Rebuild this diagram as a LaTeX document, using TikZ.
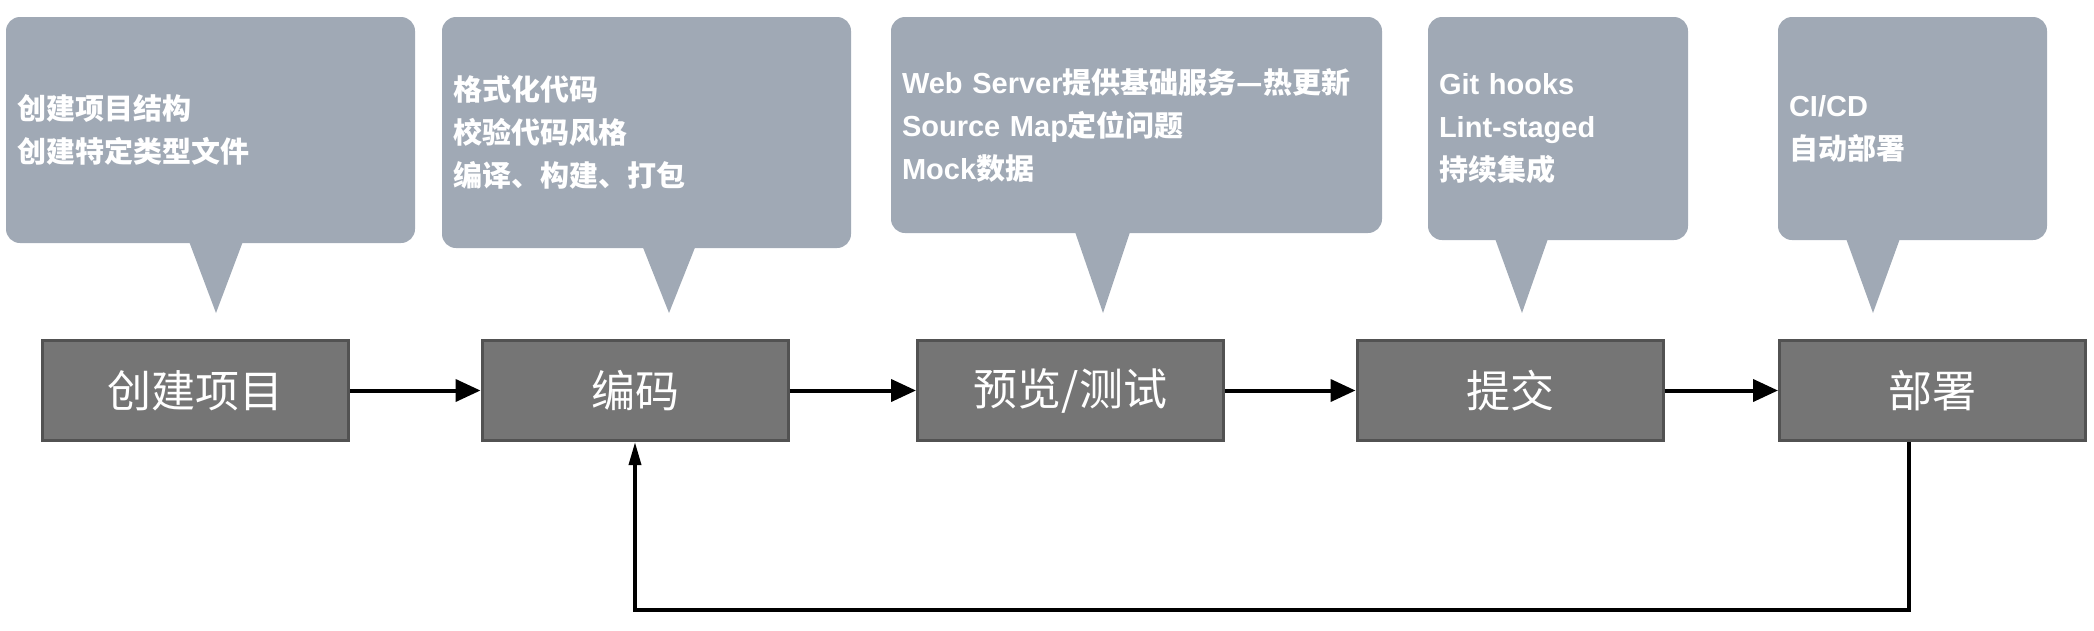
\documentclass[tikz,border=0pt]{standalone}
\usepackage{fontspec}
\setmainfont{Noto Sans CJK SC}
\newfontfamily\lat{Liberation Sans}
\usetikzlibrary{arrows.meta,calc}
\definecolor{cfill}{HTML}{A0A9B5}
\definecolor{bfill}{HTML}{757575}
\definecolor{bedge}{HTML}{525252}
\begin{document}
\begin{tikzpicture}[x=1pt,y=-1pt,
  callout/.style={rectangle, rounded corners=14pt, fill=cfill, inner sep=11pt,
    align=left, text=white, font=\fontsize{29}{43}\selectfont\bfseries},
  stepbox/.style={rectangle, fill=bfill, draw=bedge, line width=3pt,
    minimum width=306pt, minimum height=100pt, text=white,
    font=\fontsize{44}{50}\selectfont, inner sep=0pt},
  flow/.style={line width=4pt, -{Triangle[length=25pt,width=22pt]}},
  back/.style={line width=3.5pt, -{Triangle[length=23pt,width=12pt]}},
  tail/.style={fill=cfill}]
\useasboundingbox (0,0) rectangle (2094,630);

% callouts
\node[callout, minimum width=409pt, minimum height=226pt, text width=387pt] (c1) at (210.5,130)
  {创建项目结构\\创建特定类型文件};
\node[callout, minimum width=409pt, minimum height=231pt, text width=387pt] (c2) at (646.5,132.5)
  {格式化代码\\校验代码风格\\编译、构建、打包};
\node[callout, minimum width=491pt, minimum height=216pt, text width=469pt] (c3) at (1136.5,125)
  {{\lat Web Server}提供基础服务—热更新\\{\lat Source Map}定位问题\\{\lat Mock}数据};
\node[callout, minimum width=260pt, minimum height=223pt, text width=238pt] (c4) at (1558,128.5)
  {{\lat Git hooks}\\{\lat Lint-staged}\\持续集成};
\node[callout, minimum width=269pt, minimum height=223pt, text width=247pt] (c5) at (1912.5,128.5)
  {{\lat CI/CD}\\自动部署};

% tails
\fill[tail] (216,313) -- (187,236) -- (245,236) -- cycle;
\fill[tail] (669,313) -- (640,240) -- (698,240) -- cycle;
\fill[tail] (1103,313) -- (1073,226) -- (1132,226) -- cycle;
\fill[tail] (1522,313) -- (1493,233) -- (1550,233) -- cycle;
\fill[tail] (1873,313) -- (1844,233) -- (1902,233) -- cycle;

% steps
\node[stepbox] (s1) at (195.5,390.5) {创建项目};
\node[stepbox] (s2) at (635,390.5) {编码};
\node[stepbox] (s3) at (1070.5,390.5) {预览/测试};
\node[stepbox] (s4) at (1510,390.5) {提交};
\node[stepbox] (s5) at (1932.5,390.5) {部署};

\draw[flow] (s1.east) -- (s2.west);
\draw[flow] (s2.east) -- (s3.west);
\draw[flow] (s3.east) -- (s4.west);
\draw[flow] (s4.east) -- (s5.west);

\coordinate (fb) at (1909,610);
\draw[back] (fb |- s5.south) -- (fb) -| (s2.south);
\end{tikzpicture}
\end{document}
